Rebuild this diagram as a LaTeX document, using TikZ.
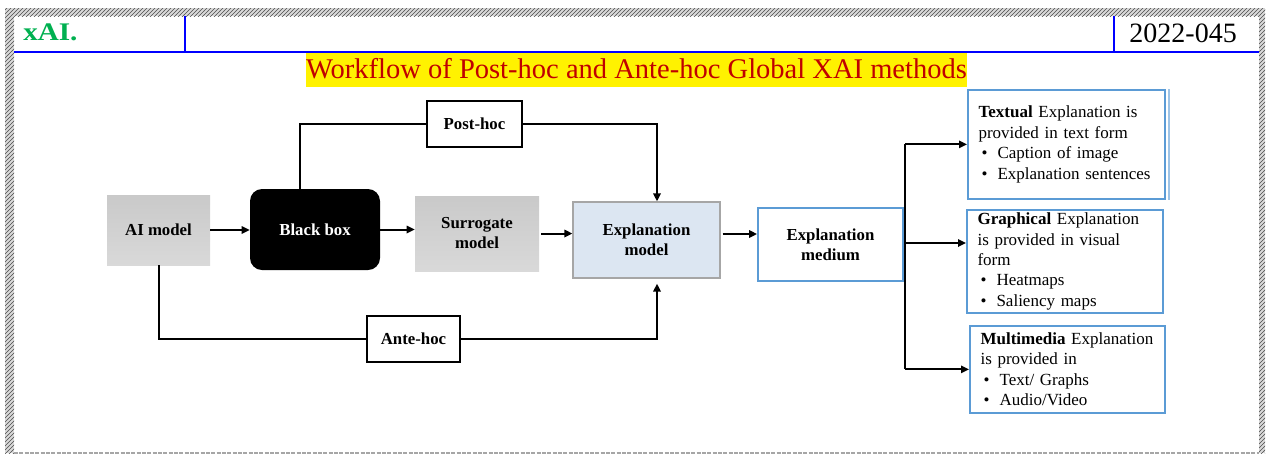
\documentclass[tikz,border=0pt]{standalone}
\usepackage{fontspec}
\setmainfont{Liberation Serif}
\usetikzlibrary{arrows.meta,patterns}

\definecolor{boxblue}{HTML}{5B9BD5}
\definecolor{expfill}{HTML}{DCE6F2}
\definecolor{expdraw}{HTML}{A6A6A6}
\definecolor{brandgreen}{HTML}{00B050}
\definecolor{titlered}{HTML}{C00000}
\definecolor{rulesblue}{HTML}{0000FF}

% one drawing unit = one pixel
\newcommand{\upx}{0.75pt}
\newcommand{\bul}{\hspace*{2.25pt}\makebox[12pt][l]{\textbullet}}

\tikzset{
  conn/.style={line width=1.5pt, black},
  arr/.style={conn, -{Triangle[length=6pt,width=5.5pt]}},
  lbl/.style={font=\bfseries\fontsize{12.6pt}{15pt}\selectfont, align=center, inner sep=0pt},
  graybox/.style={lbl, top color=gray!42, bottom color=gray!30, draw=none},
  blackbox/.style={lbl, fill=black, text=white, rounded corners=9pt},
  expbox/.style={lbl, fill=expfill, draw=expdraw, line width=0.9pt},
  medbox/.style={lbl, fill=white, draw=boxblue, line width=1.3pt},
  plainbox/.style={lbl, fill=white, draw=black, line width=1pt},
  outbox/.style={draw=boxblue, line width=1.3pt, fill=white, anchor=north west,
    align=left, inner xsep=8pt, inner ysep=0pt,
    font=\fontsize{12.75pt}{15.3pt}\selectfont},
  hdrrule/.style={rulesblue, line width=1.6pt},
  band/.style={fill=gray!30, postaction={pattern=north east lines, pattern color=black!70}},
}

\begin{document}
\begin{tikzpicture}[x=0.75pt,y=-0.75pt]
\useasboundingbox (0,0) rectangle (1266,455);

% hatched page frame
\path[band] (5,8) rectangle (1265,16);
\path[band] (5,8) rectangle (14,453);
\path[band] (1259,8) rectangle (1265,453);
\draw[gray!70, line width=0.9pt, dash pattern=on 3pt off 1pt] (14,453) -- (1259,453);

% header rules
\draw[hdrrule] (14,52) -- (1259,52);
\draw[hdrrule] (185,16) -- (185,52);
\draw[hdrrule] (1114,16) -- (1114,52);

\node[anchor=base west, inner sep=0pt, text=brandgreen,
      font=\bfseries\fontsize{19pt}{22pt}\selectfont, xscale=1.15] (brand) at (23,40) {xAI.};
\node[anchor=base east, inner sep=0pt,
      font=\fontsize{21pt}{24pt}\selectfont] (docno) at (1237,42) {2022-045};

% title
\node[anchor=base, fill=yellow, inner sep=0pt, text height=18.75pt, text depth=6.75pt,
      text=titlered, font=\fontsize{21.4pt}{25pt}\selectfont] (title) at (636.5,78)
      {Workflow of Post-hoc and Ante-hoc Global XAI methods};

% workflow boxes
\node[graybox, minimum width=103*\upx, minimum height=70*\upx] (ai) at (158.5,230) {AI model};
\node[blackbox, minimum width=130*\upx, minimum height=81*\upx] (bb) at (315,229.5) {Black box};
\node[graybox, minimum width=124*\upx, minimum height=75*\upx] (sur) at (477,233.5) {Surrogate\\model};
\node[expbox, minimum width=147*\upx, minimum height=76*\upx] (em) at (646.5,240) {Explanation\\model};
\node[medbox, minimum width=145*\upx, minimum height=73*\upx] (med) at (830.5,244.5) {Explanation\\medium};
\node[plainbox, minimum width=95*\upx, minimum height=46*\upx] (post) at (474.5,124) {Post-hoc};
\node[plainbox, minimum width=93*\upx, minimum height=46*\upx] (ante) at (413.5,339) {Ante-hoc};

% explanation kinds
\node[outbox, text width=176*\upx, minimum height=109*\upx] (tex) at (967,89)
  {\textbf{Textual} Explanation is\\provided in text form\\\bul Caption of image\\\bul Explanation sentences};
\draw[boxblue!60, line width=0.8pt] ([xshift=2.2pt]tex.north east) -- ([xshift=2.2pt]tex.south east);
\node[outbox, text width=175*\upx, minimum height=103*\upx] (gra) at (966,209)
  {\textbf{Graphical} Explanation\\is provided in visual\\form\\\bul Heatmaps\\\bul Saliency maps};
\node[outbox, text width=174*\upx, minimum height=87*\upx] (mul) at (969,325)
  {\textbf{Multimedia} Explanation\\is provided in\\\bul Text/ Graphs\\\bul Audio/Video};

% main flow
\draw[arr] (ai.east) -- (ai.east -| bb.west);
\draw[arr] (bb.east) -- (bb.east -| sur.west);
\draw[arr] ([xshift=1.5pt]sur.east) -- (sur.east -| em.west);
\draw[arr] ([xshift=1.5pt,yshift=4.5pt]em.east) -- ([yshift=4.5pt]em.east -| med.west);

% post-hoc branch
\draw[conn] ([xshift=-15*\upx]bb.north) |- (post.west);
\draw[arr] (post.east) -| ([xshift=10.5*\upx]em.north);

% ante-hoc branch
\draw[conn] (ai.south) |- (ante.west);
\draw[arr] (ante.east) -| ([xshift=10.5*\upx,yshift=-5*\upx]em.south);

% fan-out to explanation kinds
\coordinate (fork) at (905,243);
\draw[conn] (med.east) -- (med.east -| fork);
\draw[conn] (fork |- tex.west) -- (fork |- mul.west);
\draw[arr] (fork |- tex.west) -- (tex.west);
\draw[arr] (fork) -- (fork -| gra.west);
\draw[arr] (fork |- mul.west) -- (mul.west);
\end{tikzpicture}
\end{document}
